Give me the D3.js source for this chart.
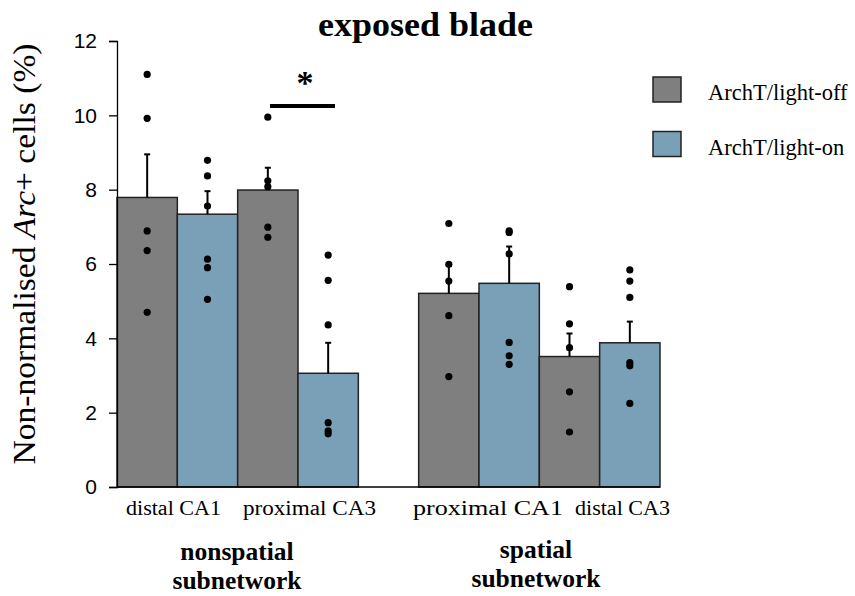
<!DOCTYPE html>
<html>
<head>
<meta charset="utf-8">
<script src="https://cdn.jsdelivr.net/npm/d3@7"></script>
<style>
  html, body { margin: 0; padding: 0; background: #fff; }
  svg { display: block; }
</style>
</head>
<body>
<svg id="chart" width="855" height="596"></svg>
<script>
// Regions, grouped into two subnetworks
const regions = ["distal CA1", "proximal CA3", "proximal CA1", "distal CA3"];
const subnetworks = ["nonspatial subnetwork", "spatial subnetwork"];
const conditions = ["ArchT/light-off", "ArchT/light-on"];

// Mean % Arc+ cells per region: [light-off, light-on]
const means = [[7.79, 7.34], [7.99, 3.06], [5.21, 5.48], [3.51, 3.88]];
// Standard error (drawn upward only)
const sems = [[1.16, 0.62], [0.60, 0.82], [0.74, 0.99], [0.62, 0.57]];
// Individual animals
const pointsOff = [
  [11.10, 9.92, 6.89, 6.36, 4.70],
  [9.95, 8.24, 8.08, 6.99, 6.72],
  [7.09, 5.99, 5.54, 4.61, 2.97],
  [5.39, 4.39, 3.75, 2.56, 1.48]
];
const pointsOn = [
  [8.79, 8.37, 7.56, 6.13, 5.90, 5.05],
  [6.24, 5.56, 4.36, 1.73, 1.51, 1.43],
  [6.89, 6.85, 6.27, 3.89, 3.53, 3.30],
  [5.84, 5.54, 5.10, 3.35, 3.26, 2.25]
];
const yTicks = [0, 2, 4, 6, 8, 10, 12];
const colors = ["#7f7f7f", "#7aa0b7"];

const svg = d3.select("#chart");
const serif = "'Liberation Serif', 'Times New Roman', serif";
const sans = "'Liberation Sans', Arial, sans-serif";

// Nine slots: two bars per region, one empty slot between subnetworks
const x = d3.scaleLinear().domain([0, 9]).range([117, 660]);
const y = d3.scaleLinear().domain([0, 12]).range([487, 41]);
const slotOf = (i, c) => i * 2 + (i >= 2 ? 1 : 0) + c;

// Bars
const bars = [];
regions.forEach((r, i) => conditions.forEach((cnd, c) => {
  bars.push({ i, c, mean: means[i][c], sem: sems[i][c],
              pts: (c === 0 ? pointsOff : pointsOn)[i] });
}));

svg.append("g").selectAll("rect").data(bars).join("rect")
  .attr("x", d => x(slotOf(d.i, d.c)))
  .attr("width", x(1) - x(0))
  .attr("y", d => y(d.mean))
  .attr("height", d => y(0) - y(d.mean))
  .attr("fill", d => colors[d.c])
  .attr("stroke", "#222")
  .attr("stroke-width", 1.5);

// Error bars
const eb = svg.append("g").attr("stroke", "#000").attr("stroke-width", 2);
bars.forEach(d => {
  const cx = x(slotOf(d.i, d.c) + 0.5);
  eb.append("line").attr("x1", cx).attr("x2", cx)
    .attr("y1", y(d.mean)).attr("y2", y(d.mean + d.sem));
  eb.append("line").attr("x1", cx - 3).attr("x2", cx + 3)
    .attr("y1", y(d.mean + d.sem)).attr("y2", y(d.mean + d.sem));
});

// Individual data points
const dots = svg.append("g").attr("fill", "#000");
bars.forEach(d => {
  const cx = x(slotOf(d.i, d.c) + 0.5);
  d.pts.forEach(v => dots.append("circle").attr("cx", cx).attr("cy", y(v)).attr("r", 3.6));
});

// Axes
const yAxis = svg.append("g").attr("transform", `translate(${x(0)},0)`)
  .call(d3.axisLeft(y).tickValues(yTicks).tickSize(8).tickPadding(12).tickFormat(d3.format("d")));
yAxis.select(".domain").attr("stroke", "#000").attr("stroke-width", 1.3);
yAxis.selectAll(".tick line").attr("stroke", "#000").attr("stroke-width", 1.3);
yAxis.selectAll("text").attr("font-family", sans).attr("font-size", 21).attr("fill", "#000");

svg.append("line").attr("x1", x(0)).attr("x2", x(9))
  .attr("y1", y(0)).attr("y2", y(0)).attr("stroke", "#000").attr("stroke-width", 1.5);

// Y label
svg.append("text")
  .attr("transform", `translate(35,254) rotate(-90)`)
  .attr("text-anchor", "middle")
  .attr("font-family", serif).attr("font-size", 32).attr("fill", "#000")
  .attr("textLength", 421).attr("lengthAdjust", "spacingAndGlyphs")
  .call(t => {
    t.append("tspan").text("Non-normalised ");
    t.append("tspan").attr("font-style", "italic").text("Arc");
    t.append("tspan").text("+ cells (%)");
  });

// Title
svg.append("text").attr("x", 425.5).attr("y", 36).attr("text-anchor", "middle")
  .attr("font-family", serif).attr("font-weight", "bold").attr("font-size", 34)
  .attr("textLength", 215).attr("lengthAdjust", "spacingAndGlyphs")
  .text("exposed blade");

// Region labels (start slot, width in px)
const labelStart = [0.149, 2.088, 4.906, 7.591];
const labelWidth = [95, 133, 150, 95];
svg.append("g").selectAll("text").data(regions).join("text")
  .attr("x", (d, i) => x(labelStart[i]))
  .attr("y", 515)
  .attr("font-family", serif).attr("font-size", 20.5)
  .attr("textLength", (d, i) => labelWidth[i]).attr("lengthAdjust", "spacingAndGlyphs")
  .text(d => d);

// Subnetwork labels
const subCenter = [237, 536];
subnetworks.forEach((s, k) => {
  const words = s.split(" ");
  const t = svg.append("text").attr("text-anchor", "middle")
    .attr("font-family", serif).attr("font-weight", "bold").attr("font-size", 25.5);
  words.forEach((w, j) => t.append("tspan").attr("x", subCenter[k]).attr("y", (k === 0 ? 560 : 558) + j * 29).text(w));
});

// Significance marker between light-off and light-on at proximal CA3
svg.append("line").attr("x1", 270).attr("x2", 335).attr("y1", 106).attr("y2", 106)
  .attr("stroke", "#000").attr("stroke-width", 4);
svg.append("text").attr("x", 305).attr("y", 94).attr("text-anchor", "middle")
  .attr("font-family", serif).attr("font-weight", "bold").attr("font-size", 34).text("*");

// Legend
const legend = svg.append("g");
conditions.forEach((c, k) => {
  const gy = 77 + k * 54.5;
  legend.append("rect").attr("x", 653).attr("y", gy).attr("width", 28).attr("height", 25)
    .attr("fill", colors[k]).attr("stroke", "#222").attr("stroke-width", 1.5);
  legend.append("text").attr("x", 708).attr("y", gy + 23)
    .attr("font-family", serif).attr("font-size", 22.5).text(c);
});
</script>
</body>
</html>
